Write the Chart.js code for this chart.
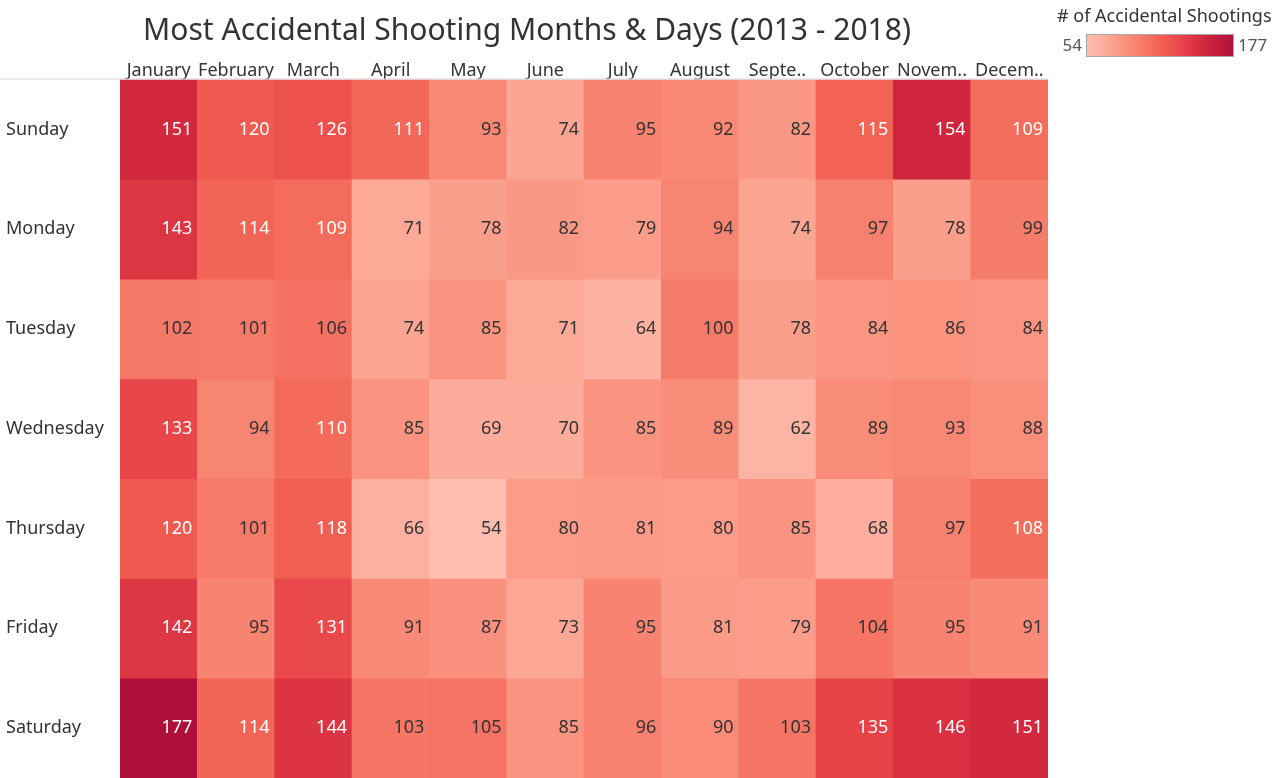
<!DOCTYPE html>
<html>
<head>
<meta charset="utf-8">
<script src="https://cdn.jsdelivr.net/npm/chart.js@4.4.1/dist/chart.umd.min.js"></script>
<style>
  html, body { margin: 0; padding: 0; background: #fff; overflow: hidden; }
  #wrap { width: 1282px; height: 778px; position: relative; }
</style>
</head>
<body>
<div id="wrap"><canvas id="heat"></canvas></div>
<script>
// data
var months = ['January', 'February', 'March', 'April', 'May', 'June', 'July', 'August', 'Septe..', 'October', 'Novem..', 'Decem..'];
var days = ['Sunday', 'Monday', 'Tuesday', 'Wednesday', 'Thursday', 'Friday', 'Saturday'];

var sunday    = [151, 120, 126, 111, 93, 74, 95, 92, 82, 115, 154, 109];
var monday    = [143, 114, 109, 71, 78, 82, 79, 94, 74, 97, 78, 99];
var tuesday   = [102, 101, 106, 74, 85, 71, 64, 100, 78, 84, 86, 84];
var wednesday = [133, 94, 110, 85, 69, 70, 85, 89, 62, 89, 93, 88];
var thursday  = [120, 101, 118, 66, 54, 80, 81, 80, 85, 68, 97, 108];
var friday    = [142, 95, 131, 91, 87, 73, 95, 81, 79, 104, 95, 91];
var saturday  = [177, 114, 144, 103, 105, 85, 96, 90, 103, 135, 146, 151];

var rows = [sunday, monday, tuesday, wednesday, thursday, friday, saturday];
var minVal = 54;
var maxVal = 177;

// colour ramp (tableau-ish red)
var stops = [
  [0.00, [253, 190, 175]],
  [0.13, [253, 171, 154]],
  [0.25, [250, 148, 128]],
  [0.37, [247, 124, 106]],
  [0.50, [242, 98, 83]],
  [0.66, [231, 66, 72]],
  [0.79, [211, 41, 62]],
  [1.00, [174, 16, 57]]
];

function rampColor(t) {
  t = Math.max(0, Math.min(1, t));
  for (var i = 1; i < stops.length; i++) {
    if (t <= stops[i][0]) {
      var a = stops[i - 1], b = stops[i];
      var f = (t - a[0]) / (b[0] - a[0]);
      var c = a[1].map(function(v, k) { return Math.round(v + (b[1][k] - v) * f); });
      return 'rgb(' + c.join(',') + ')';
    }
  }
  return 'rgb(' + stops[stops.length - 1][1].join(',') + ')';
}

function cellColor(v) {
  return rampColor((v - minVal) / (maxVal - minVal));
}

var datasets = rows.map(function(vals, r) {
  return {
    label: days[r],
    data: vals.map(function() { return [r, r + 1]; }),
    counts: vals,
    backgroundColor: vals.map(cellColor),
    borderWidth: 0,
    grouped: false,
    barPercentage: 1,
    categoryPercentage: 1
  };
});

var FONT = '"Noto Sans", "Open Sans", sans-serif';

var cellLabels = {
  id: 'cellLabels',
  afterDatasetsDraw: function(chart) {
    var c = chart.ctx;
    c.save();
    c.font = '18px ' + FONT;
    c.textAlign = 'right';
    c.textBaseline = 'middle';
    chart.data.datasets.forEach(function(ds, di) {
      var meta = chart.getDatasetMeta(di);
      meta.data.forEach(function(el, i) {
        var v = ds.counts[i];
        c.fillStyle = v > 107 ? '#ffffff' : '#333333';
        c.fillText(String(v), el.x + el.width / 2 - 5, (el.y + el.base) / 2);
      });
    });
    c.restore();
  }
};

var sideBits = {
  id: 'sideBits',
  afterDraw: function(chart) {
    var c = chart.ctx;
    var area = chart.chartArea;
    c.save();
    // header rule
    c.strokeStyle = '#d4d4d4';
    c.lineWidth = 1;
    c.beginPath();
    c.moveTo(0, area.top - 0.5);
    c.lineTo(area.right, area.top - 0.5);
    c.stroke();

    // colour legend
    var lx = 1086, ly = 34, lw = 148, lh = 23;
    c.fillStyle = '#333333';
    c.font = '18px ' + FONT;
    c.textAlign = 'left';
    c.textBaseline = 'middle';
    c.fillText('# of Accidental Shootings', 1057, 17);
    var g = c.createLinearGradient(lx, 0, lx + lw, 0);
    stops.forEach(function(s) { g.addColorStop(s[0], 'rgb(' + s[1].join(',') + ')'); });
    c.fillStyle = g;
    c.fillRect(lx, ly, lw, lh);
    c.strokeStyle = '#a8a8a8';
    c.strokeRect(lx + 0.5, ly + 0.5, lw - 1, lh - 1);
    c.font = '17px ' + FONT;
    c.fillStyle = '#555555';
    c.textAlign = 'right';
    c.fillText(String(minVal), lx - 4, ly + lh / 2 + 1);
    c.textAlign = 'left';
    c.fillText(String(maxVal), lx + lw + 4, ly + lh / 2 + 1);
    c.restore();
  }
};

new Chart(document.getElementById('heat'), {
  type: 'bar',
  data: { labels: months, datasets: datasets },
  options: {
    responsive: true,
    maintainAspectRatio: false,
    animation: false,
    layout: { padding: { left: 6, right: 234, top: 0, bottom: 0 } },
    plugins: {
      legend: { display: false },
      tooltip: { enabled: false },
      title: {
        display: true,
        text: 'Most Accidental Shooting Months & Days (2013 - 2018)',
        color: '#333333',
        font: { family: FONT, size: 30, weight: 'normal' },
        padding: { top: 13, bottom: 2 }
      }
    },
    scales: {
      x: {
        type: 'category',
        position: 'top',
        offset: true,
        grid: { display: false, drawTicks: false },
        border: { display: false },
        ticks: {
          color: '#333333',
          font: { family: FONT, size: 18 },
          padding: -2,
          maxRotation: 0,
          autoSkip: false
        },
        afterFit: function(scale) { scale.height = 79.5 - 13 - 36 - 2; }
      },
      y: {
        type: 'linear',
        min: 0,
        max: 7,
        reverse: true,
        grid: { display: false, drawTicks: false },
        border: { display: false },
        afterBuildTicks: function(scale) {
          scale.ticks = days.map(function(d, i) { return { value: i + 0.5 }; });
        },
        afterFit: function(scale) {
          scale.width = 114;
          scale.paddingTop = 0;
          scale.paddingBottom = 0;
        },
        ticks: {
          crossAlign: 'far',
          color: '#333333',
          font: { family: FONT, size: 18 },
          callback: function(value) { return days[Math.floor(value)]; }
        }
      }
    }
  },
  plugins: [cellLabels, sideBits]
});
</script>
</body>
</html>
